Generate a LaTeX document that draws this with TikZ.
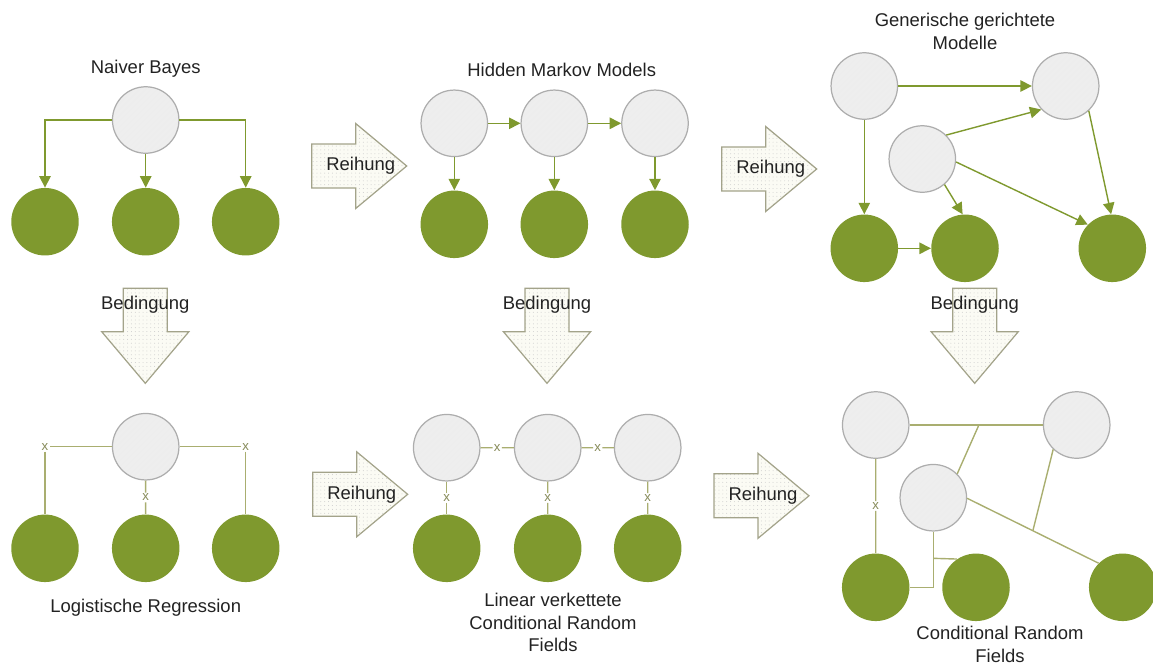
\documentclass[tikz,border=0pt]{standalone}
\usepackage{fontspec}
\setmainfont{Liberation Sans}
\usetikzlibrary{arrows.meta,patterns.meta,calc}

\definecolor{leaf}{HTML}{7F992E}
\definecolor{edgegreen}{HTML}{7F992E}
\definecolor{softedge}{HTML}{A9AE70}
\definecolor{hidfill}{HTML}{EEEEEE}
\definecolor{hidline}{HTML}{ADADAD}
\definecolor{blockfill}{HTML}{FBFBF4}
\definecolor{blockline}{HTML}{A3A38A}
\definecolor{ink}{HTML}{222222}

\tikzset{
  hidden/.style={circle, draw=hidline, line width=0.7pt, minimum size=1.33cm, inner sep=0pt,
    preaction={fill=hidfill},
    pattern={Lines[angle=45,distance=2.4pt,line width=0.3pt]}, pattern color=gray!14},
  observed/.style={circle, fill=leaf, minimum size=1.35cm, inner sep=0pt},
  directed/.style={draw=edgegreen, line width=0.8pt, -{Triangle[length=6.5pt,width=6.5pt]}},
  undirected/.style={draw=softedge, line width=0.8pt},
  factor/.style={fill=white, inner sep=0.6pt, text=softedge!80!black,
    font=\fontsize{7.5}{7.5}\selectfont},
  title/.style={text=ink, font=\fontsize{10.5}{13}\selectfont, align=center},
  blockarrow/.style={draw=blockline, line width=0.7pt, line join=miter,
    preaction={fill=blockfill},
    pattern={Dots[distance=2.2pt,radius=0.28pt]}, pattern color=gray!40},
  rightblock/.pic={
    \draw[blockarrow] (0,-22) -- (44,-22) -- (44,-42.5) -- (95,0) -- (44,42.5) -- (44,22) -- (0,22) -- cycle;
    \node[title] (-label) at (49,0) {Reihung};
  },
  downblock/.pic={
    \draw[blockarrow] (-22,0) -- (22,0) -- (22,43.5) -- (43.5,43.5) -- (0,95) -- (-43.5,43.5) -- (-22,43.5) -- cycle;
    \node[title] (-label) at (0,16) {Bedingung};
  }
}

\begin{document}
\begin{tikzpicture}[x=0.02cm,y=-0.02cm]
\useasboundingbox (0,0) rectangle (1153,664);

% ---------- Naiver Bayes ----------
\node[title] (nbtitle) at (145.7,69) {Naiver Bayes};
\node[hidden] (nb) at (145.7,120) {};
\node[observed] (nb1) at (45,221.7) {};
\node[observed] (nb2) at (145.7,221.7) {};
\node[observed] (nb3) at (245.7,221.7) {};
\draw[directed] (nb) -| (nb1);
\draw[directed] (nb) -- (nb2);
\draw[directed] (nb) -| (nb3);

% ---------- Hidden Markov Models ----------
\node[title] (hmmtitle) at (561.7,70) {Hidden Markov Models};
\node[hidden] (h1) at (454.3,123.3) {};
\node[hidden] (h2) at (554.3,123.3) {};
\node[hidden] (h3) at (655,123.3) {};
\node[observed] (o1) at (454.3,224.3) {};
\node[observed] (o2) at (554.3,224.3) {};
\node[observed] (o3) at (655,224.3) {};
\draw[directed] (h1) -- (h2);
\draw[directed] (h2) -- (h3);
\draw[directed] (h1) -- (o1);
\draw[directed] (h2) -- (o2);
\draw[directed] (h3) -- (o3);

% ---------- Generische gerichtete Modelle ----------
\node[title] (gtitle) at (965,31) {Generische gerichtete\\Modelle};
\node[hidden] (ga) at (864.3,86) {};
\node[hidden] (gb) at (1065.7,86) {};
\node[hidden] (gc) at (922.3,159) {};
\node[observed] (gd) at (864.3,248.3) {};
\node[observed] (ge) at (965,248.3) {};
\node[observed] (gf) at (1112.3,248.3) {};
\draw[directed] (ga) -- (gb);
\draw[directed] (ga) -- (gd);
\draw[directed] (gc.45) -- (gb.224);
\draw[directed] (gc.-49) -- (ge.94);
\draw[directed] (gc.-5) -- (gf.136);
\draw[directed] (gb.-47) -- (gf.92);
\draw[directed] (gd) -- (ge);

% ---------- block arrows ----------
\pic (r1) at (311.7,166) {rightblock};
\pic (r2) at (721.7,169) {rightblock};
\pic (r3) at (312.7,494.3) {rightblock};
\pic (r4) at (714,495.8) {rightblock};
\pic (b1) at (145.3,288.3) {downblock};
\pic (b2) at (547,288.3) {downblock};
\pic (b3) at (974.7,288.3) {downblock};

% ---------- Logistische Regression ----------
\node[hidden] (lt) at (145.7,446.7) {};
\node[observed] (l1) at (45,548.3) {};
\node[observed] (l2) at (145.7,548.3) {};
\node[observed] (l3) at (245.7,548.3) {};
\node[factor] (lx1) at (l1 |- lt) {x};
\node[factor] (lx3) at (l3 |- lt) {x};
\node[factor] (lx2) at ($(lt.south)!0.5!(l2.north)$) {x};
\draw[undirected] (lt) -- (lx1) -- (l1);
\draw[undirected] (lt) -- (lx3) -- (l3);
\draw[undirected] (lt) -- (lx2) -- (l2);
\node[title] (lrtitle) at (145.7,608) {Logistische Regression};

% ---------- Linear verkettete CRF ----------
\node[hidden] (c1) at (446.7,447.7) {};
\node[hidden] (c2) at (547.7,447.7) {};
\node[hidden] (c3) at (647.7,447.7) {};
\node[observed] (y1) at (446.7,548.3) {};
\node[observed] (y2) at (547.7,548.3) {};
\node[observed] (y3) at (647.7,548.3) {};
\node[factor] (cx12) at ($(c1.east)!0.5!(c2.west)$) {x};
\node[factor] (cx23) at ($(c2.east)!0.5!(c3.west)$) {x};
\node[factor] (cy1) at ($(c1.south)!0.5!(y1.north)$) {x};
\node[factor] (cy2) at ($(c2.south)!0.5!(y2.north)$) {x};
\node[factor] (cy3) at ($(c3.south)!0.5!(y3.north)$) {x};
\draw[undirected] (c1) -- (cx12) -- (c2);
\draw[undirected] (c2) -- (cx23) -- (c3);
\draw[undirected] (c1) -- (cy1) -- (y1);
\draw[undirected] (c2) -- (cy2) -- (y2);
\draw[undirected] (c3) -- (cy3) -- (y3);
\node[title] (lctitle) at (553,622.5) {Linear verkettete\\Conditional Random\\Fields};

% ---------- Conditional Random Fields ----------
\node[hidden] (ca) at (875.7,425) {};
\node[hidden] (cb) at (1076.7,425) {};
\node[hidden] (cc) at (933.3,497.7) {};
\node[observed] (cd) at (875.7,587.3) {};
\node[observed] (ce) at (976,587.3) {};
\node[observed] (cf) at (1122.7,587.3) {};
\coordinate (j1) at ($(ca.east)!0.52!(cb.west)$);
\path (cc.-1) -- (cf.135) coordinate[pos=0.5] (j2);
\path (cc.south) -- (cc.south |- cd) coordinate[pos=0.48] (j3);
\node[factor] (cax) at ($(ca.south)!0.5!(cd.north)$) {x};
\draw[undirected] (ca) -- (cb);
\draw[undirected] (j1) -- (cc.45);
\draw[undirected] (cc.-1) -- (cf.135);
\draw[undirected] (cb.226) -- (j2);
\draw[undirected] (cc) |- (cd);
\draw[undirected] (j3) -- (ce.124);
\draw[undirected] (ca) -- (cax) -- (cd);
\node[title] (crftitle) at (1000,644) {Conditional Random\\Fields};

\end{tikzpicture}
\end{document}
